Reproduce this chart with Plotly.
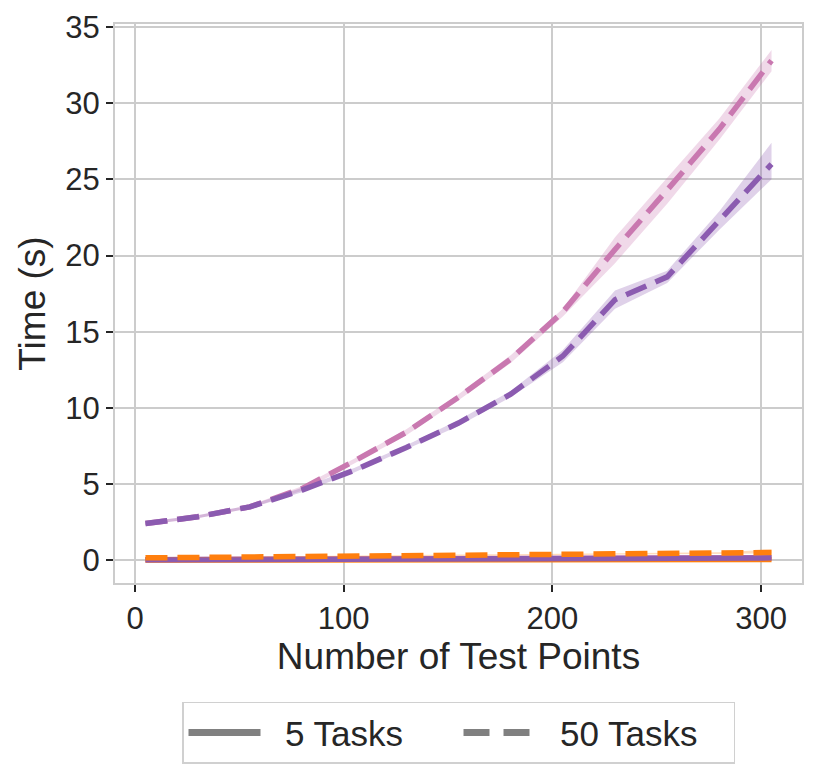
import plotly.graph_objects as go

# test points
x = [5, 30, 55, 80, 105, 130, 155, 180, 205, 230, 255, 280, 305]

# 50 tasks, pink method
pink50 = [2.4, 2.85, 3.5, 4.7, 6.5, 8.4, 10.7, 13.2, 16.3, 20.4, 24.3, 28.3, 32.8]
pink50_lo = [2.3, 2.75, 3.4, 4.55, 6.35, 8.2, 10.5, 12.95, 16.0, 19.5, 23.4, 27.6, 32.1]
pink50_hi = [2.5, 2.95, 3.6, 4.85, 6.65, 8.6, 10.9, 13.45, 16.5, 21.2, 25.1, 29.0, 33.5]

# 50 tasks, purple method
purp50 = [2.4, 2.85, 3.5, 4.6, 5.9, 7.4, 9.0, 10.9, 13.4, 17.1, 18.6, 22.3, 26.0]
purp50_lo = [2.3, 2.75, 3.4, 4.45, 5.75, 7.25, 8.8, 10.7, 13.0, 16.5, 18.2, 21.7, 25.0]
purp50_hi = [2.5, 2.95, 3.6, 4.75, 6.05, 7.55, 9.2, 11.1, 13.8, 17.7, 19.0, 22.9, 27.4]

# 50 tasks, orange method
orng50 = [0.15, 0.18, 0.2, 0.22, 0.25, 0.27, 0.3, 0.33, 0.36, 0.39, 0.42, 0.46, 0.5]
orng50_lo = [0.12, 0.15, 0.17, 0.19, 0.22, 0.24, 0.27, 0.3, 0.32, 0.35, 0.38, 0.41, 0.44]
orng50_hi = [0.18, 0.21, 0.23, 0.25, 0.28, 0.3, 0.33, 0.36, 0.4, 0.43, 0.46, 0.52, 0.7]

# 5 tasks
pink5 = [0.03, 0.04, 0.05, 0.06, 0.07, 0.08, 0.09, 0.1, 0.11, 0.12, 0.13, 0.14, 0.16]
purp5 = [0.02, 0.03, 0.04, 0.05, 0.06, 0.07, 0.08, 0.09, 0.1, 0.11, 0.12, 0.13, 0.15]
orng5 = [0.01, 0.01, 0.02, 0.02, 0.02, 0.03, 0.03, 0.03, 0.04, 0.04, 0.04, 0.05, 0.05]

PINK = "#c978b0"
PURPLE = "#8b5bb0"
ORANGE = "#ff7f0e"
DASH = "22px,10px"

def rgba(hexc, a):
    h = hexc.lstrip("#")
    r, g, b = int(h[0:2], 16), int(h[2:4], 16), int(h[4:6], 16)
    return f"rgba({r},{g},{b},{a})"

fig = go.Figure()

def band(lo, hi, color):
    fig.add_trace(go.Scatter(x=x, y=lo, mode="lines", line=dict(width=0),
                             showlegend=False, hoverinfo="skip"))
    fig.add_trace(go.Scatter(x=x, y=hi, mode="lines", line=dict(width=0),
                             fill="tonexty", fillcolor=rgba(color, 0.28),
                             showlegend=False, hoverinfo="skip"))

def line(y, color, dash):
    fig.add_trace(go.Scatter(x=x, y=y, mode="lines",
                             line=dict(color=color, width=5.5, dash=dash),
                             showlegend=False))

line(pink5, PINK, "solid")
line(orng5, ORANGE, "solid")
line(purp5, PURPLE, "solid")
band(pink50_lo, pink50_hi, PINK)
line(pink50, PINK, DASH)
band(orng50_lo, orng50_hi, ORANGE)
line(orng50, ORANGE, DASH)
band(purp50_lo, purp50_hi, PURPLE)
line(purp50, PURPLE, DASH)

# legend entries
fig.add_trace(go.Scatter(x=[None], y=[None], mode="lines", name="\u00a0\u00a05 Tasks",
                         line=dict(color="#808080", width=7)))
fig.add_trace(go.Scatter(x=[None], y=[None], mode="lines", name="\u00a0\u00a050 Tasks",
                         line=dict(color="#808080", width=7, dash="26px,14px")))

font = "Arial, Liberation Sans, sans-serif"
axis_common = dict(
    showgrid=True, gridcolor="#cccccc", gridwidth=2,
    showline=True, linecolor="#cccccc", linewidth=2, mirror=True,
    ticks="outside", ticklen=7, tickwidth=2, tickcolor="#262626",
    tickfont=dict(size=31, color="#262626", family=font),
    zeroline=False, automargin=False,
)

fig.update_layout(
    width=822, height=770,
    margin=dict(l=107, r=28, t=16, b=195),
    plot_bgcolor="white", paper_bgcolor="white",
    font=dict(family=font, color="#262626"),
    xaxis=dict(axis_common, range=[-9.6, 319.6], tickvals=[0, 100, 200, 300],
               title=dict(text="Number of Test Points", font=dict(size=37), standoff=2)),
    yaxis=dict(axis_common, range=[-1.5, 35.2], tickvals=[0, 5, 10, 15, 20, 25, 30, 35],
               title=dict(text="Time (s)", font=dict(size=37), standoff=8)),
    legend=dict(orientation="h", x=0.5, xanchor="center", y=-0.268, yanchor="middle",
                bordercolor="#d0d0d0", borderwidth=1.5, font=dict(size=35),
                traceorder="normal", itemwidth=72, entrywidth=188),
)

fig.write_html("out.html")
